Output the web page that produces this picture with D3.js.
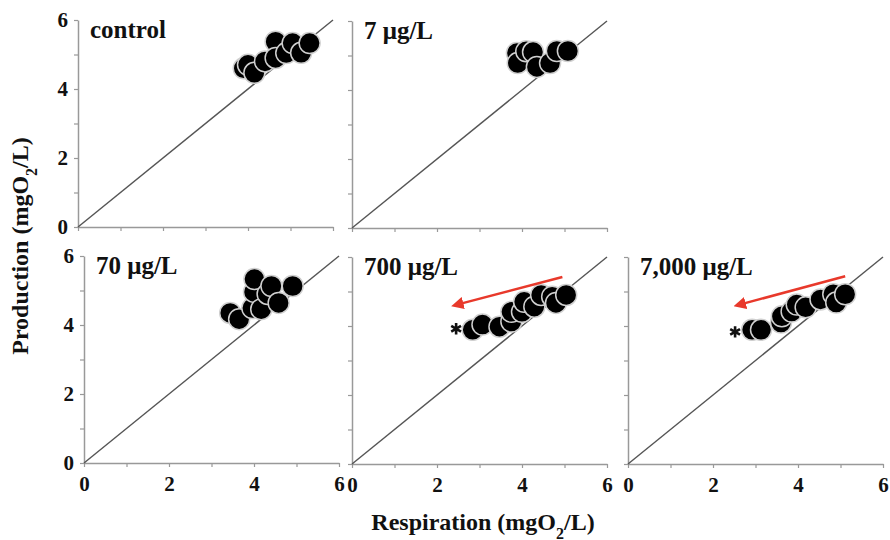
<!DOCTYPE html>
<html>
<head>
<meta charset="utf-8">
<script src="https://cdn.jsdelivr.net/npm/d3@7"></script>
<style>
  body { margin: 0; background: #fff; }
  svg { display: block; }
  text { font-family: "Liberation Serif", "Times New Roman", serif; font-weight: bold; fill: #111; }
</style>
</head>
<body>
<div id="chart"></div>
<script>
// respiration (x) and production (y) per treatment, mgO2/L
const respControl = [3.9, 4.0, 4.15, 4.4, 4.65, 4.65, 4.9, 5.05, 5.25, 5.45];
const prodControl = [4.6, 4.7, 4.47, 4.8, 5.37, 4.9, 5.04, 5.33, 5.05, 5.33];

const resp7 = [3.88, 3.9, 4.1, 4.26, 4.35, 4.66, 4.82, 5.08];
const prod7 = [5.07, 4.78, 5.12, 5.1, 4.67, 4.78, 5.13, 5.13];

const resp70 = [3.44, 3.65, 3.96, 4.0, 4.01, 4.17, 4.32, 4.41, 4.58, 4.91];
const prod70 = [4.35, 4.17, 4.49, 4.96, 5.33, 4.46, 4.9, 5.13, 4.64, 5.13];

const resp700 = [2.84, 3.07, 3.47, 3.75, 3.75, 4.0, 4.05, 4.29, 4.45, 4.71, 4.8, 5.04];
const prod700 = [3.89, 4.04, 3.98, 4.13, 4.41, 4.41, 4.7, 4.56, 4.9, 4.85, 4.67, 4.9];

const resp7000 = [2.92, 3.13, 3.6, 3.62, 3.85, 3.97, 4.18, 4.53, 4.83, 4.9, 5.11];
const prod7000 = [3.89, 3.89, 4.1, 4.28, 4.42, 4.62, 4.54, 4.77, 4.92, 4.68, 4.92];

// red trend arrows [start, end] and asterisk markers
const arrow700 = [[4.95, 5.42], [2.42, 4.59]];
const arrow7000 = [[5.11, 5.44], [2.57, 4.59]];
const star700 = [2.45, 3.92];
const star7000 = [2.52, 3.83];

const axisTicks = [0, 1, 2, 3, 4, 5, 6];
const tickLabels = [0, 2, 4, 6];

const width = 890, height = 540;
const panelW = 255, panelH = 207;
const serif = "Liberation Serif, Times New Roman, serif";

const svg = d3.select("#chart").append("svg")
  .attr("width", width).attr("height", height);

const defs = svg.append("defs");
defs.append("marker")
  .attr("id", "arrowhead")
  .attr("viewBox", "0 0 10 10")
  .attr("refX", 2).attr("refY", 5)
  .attr("markerWidth", 5).attr("markerHeight", 5)
  .attr("orient", "auto")
  .append("path").attr("d", "M0,0 L10,5 L0,10 z").attr("fill", "#e8392b");

const panels = [
  {label: "control", r: respControl, p: prodControl, left: 78, top: 20, yLab: true, xLab: false},
  {label: "7 μg/L", r: resp7, p: prod7, left: 352, top: 21, yLab: false, xLab: false},
  {label: "70 μg/L", r: resp70, p: prod70, left: 84, top: 256, yLab: true, xLab: true},
  {label: "700 μg/L", r: resp700, p: prod700, left: 352, top: 257, yLab: false, xLab: true, arrow: arrow700, star: star700},
  {label: "7,000 μg/L", r: resp7000, p: prod7000, left: 628, top: 257, yLab: false, xLab: true, arrow: arrow7000, star: star7000}
];

panels.forEach(panel => {
  const g = svg.append("g").attr("transform", `translate(${panel.left}, ${panel.top})`);
  const x = d3.scaleLinear().domain([0, 6]).range([0, panelW]);
  const y = d3.scaleLinear().domain([0, 6]).range([panelH, 0]);

  const yAxis = d3.axisLeft(y).tickValues(axisTicks).tickSize(4).tickSizeOuter(0)
    .tickFormat(d => panel.yLab && tickLabels.includes(d) ? d : "");
  const xAxis = d3.axisBottom(x).tickValues(axisTicks).tickSize(4).tickSizeOuter(0)
    .tickFormat(d => panel.xLab && tickLabels.includes(d) ? d : "");

  const yG = g.append("g").call(yAxis);
  const xG = g.append("g").attr("transform", `translate(0, ${panelH})`).call(xAxis);
  [yG, xG].forEach(ax => {
    ax.attr("font-family", null);
    ax.select(".domain").attr("stroke", "#999").attr("stroke-width", 1.5);
    ax.selectAll(".tick line").attr("stroke", "#999").attr("stroke-width", 1.2);
    ax.selectAll(".tick text")
      .style("font-family", serif)
      .style("font-weight", "bold")
      .style("font-size", "21px")
      .attr("fill", "#111");
  });
  yG.selectAll(".tick text").attr("x", -10);
  xG.selectAll(".tick text").attr("y", 13);

  // 1:1 line
  g.append("line")
    .attr("x1", x(0)).attr("y1", y(0))
    .attr("x2", x(6)).attr("y2", y(6))
    .attr("stroke", "#555").attr("stroke-width", 1.4);

  const pts = panel.r.map((r, i) => ({r, p: panel.p[i]}));
  g.selectAll("circle.pt").data(pts).enter()
    .append("circle")
    .attr("class", "pt")
    .attr("cx", d => x(d.r))
    .attr("cy", d => y(d.p))
    .attr("r", 10.5)
    .attr("fill", "#000")
    .attr("stroke", "#d0d0d0")
    .attr("stroke-width", 1.5);

  if (panel.arrow) {
    g.append("line")
      .attr("x1", x(panel.arrow[0][0])).attr("y1", y(panel.arrow[0][1]))
      .attr("x2", x(panel.arrow[1][0]) + 6).attr("y2", y(panel.arrow[1][1]) - 2)
      .attr("stroke", "#e8392b").attr("stroke-width", 2.5)
      .attr("marker-end", "url(#arrowhead)");
  }
  if (panel.star) {
    g.append("path")
      .attr("transform", `translate(${x(panel.star[0])}, ${y(panel.star[1])})`)
      .attr("d", d3.symbol(d3.symbolAsterisk, 90)())
      .attr("fill", "none")
      .attr("stroke", "#111")
      .attr("stroke-width", 2.6);
  }

  g.append("text")
    .attr("x", 12).attr("y", 18)
    .style("font-size", "25px")
    .text(panel.label);
});

// axis titles
const yTitle = svg.append("text")
  .attr("transform", `translate(28, 246) rotate(-90)`)
  .attr("text-anchor", "middle")
  .style("font-size", "24px");
yTitle.append("tspan").text("Production (mgO");
yTitle.append("tspan").attr("baseline-shift", "sub").style("font-size", "16px").text("2");
yTitle.append("tspan").text("/L)");

const xTitle = svg.append("text")
  .attr("x", 483).attr("y", 530)
  .attr("text-anchor", "middle")
  .style("font-size", "24px");
xTitle.append("tspan").text("Respiration (mgO");
xTitle.append("tspan").attr("baseline-shift", "sub").style("font-size", "16px").text("2");
xTitle.append("tspan").text("/L)");
</script>
</body>
</html>
